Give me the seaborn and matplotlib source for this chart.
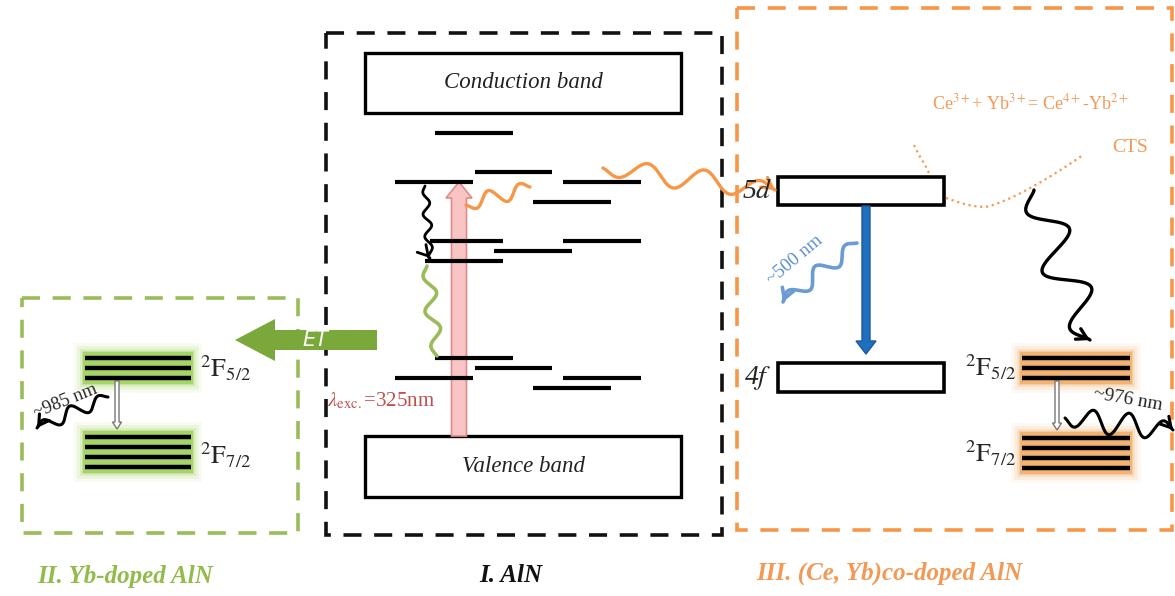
import numpy as np
import matplotlib
matplotlib.use("Agg")
import matplotlib.pyplot as plt
import seaborn as sns
from matplotlib.patches import Rectangle, FancyArrow

sns.set_theme(style="white")
plt.rcParams['font.family'] = ['Liberation Serif', 'DejaVu Serif']
plt.rcParams['mathtext.fontset'] = 'stix'

# ---------------- data (diagram layout in pixel units) ----------------
panel_titles = ["II. Yb-doped AlN", "I. AlN", "III. (Ce, Yb)co-doped AlN"]
panel_colors = ["#92bb4a", "#111111", "#f29a55"]
panel_title_pos = [(125, 576), (511, 576), (889, 573)]
panel_boxes = [(22, 298, 298, 533), (326, 33, 722, 535), (737, 8, 1172, 530)]

band_boxes = [(365, 53, 681, 113), (365, 436, 681, 497)]
band_labels = ["Conduction band", "Valence band"]

defect_y = [133, 172, 182, 182, 202, 241, 241, 251, 261, 358, 368, 378, 378, 388]
defect_x0 = [435, 475, 395, 563, 533, 430, 563, 494, 425, 435, 475, 395, 563, 533]
defect_x1 = [513, 552, 473, 641, 611, 503, 641, 572, 503, 513, 552, 473, 641, 611]

yb_upper_y = [358, 368, 378]
yb_lower_y = [437, 447, 457, 467]
ce_levels = ["5d", "4f"]
ce_level_y = [(177, 205), (363, 392)]

# ---------------- figure ----------------
fig = plt.figure(figsize=(11.75, 5.96), dpi=100)
ax = fig.add_axes([0, 0, 1, 1])
ax.set_xlim(0, 1175)
ax.set_ylim(596, 0)
ax.axis("off")


def dashed_box(b, color):
    x0, y0, x1, y1 = b
    ax.add_patch(Rectangle((x0, y0), x1 - x0, y1 - y0, fill=False, ec=color,
                           lw=2.6, ls=(0, (5, 3.5))))


def wavy(p0, p1, waves, amp, color, lw=2.2, head=True):
    p0 = np.array(p0, float); p1 = np.array(p1, float)
    t = np.linspace(0, 1, 300)
    d = p1 - p0
    L = np.hypot(*d)
    u = d / L
    n = np.array([-u[1], u[0]])
    env = np.sin(np.pi * t) ** 0.3
    off = amp * np.sin(2 * np.pi * waves * t) * env
    pts = p0[None, :] + t[:, None] * d[None, :] + off[:, None] * n[None, :]
    ax.plot(pts[:, 0], pts[:, 1], color=color, lw=lw, solid_capstyle="round")
    if head:
        ax.annotate("", xy=pts[-1], xytext=pts[-8],
                    arrowprops=dict(arrowstyle="->,head_length=0.6,head_width=0.35",
                                    color=color, lw=lw, shrinkA=0, shrinkB=0))


def glow_levels(x0, x1, ys, color):
    top, bot = min(ys) - 6, max(ys) + 6
    for pad, a in [(9, 0.08), (6, 0.12), (3, 0.2), (1, 0.35), (0, 0.7)]:
        ax.add_patch(Rectangle((x0 - pad, top - pad), x1 - x0 + 2 * pad,
                               bot - top + 2 * pad, color=color, alpha=a, lw=0))
    for y in ys:
        ax.plot([x0 + 2, x1 - 2], [y, y], color="black", lw=3.2, solid_capstyle="butt")


def hollow_arrow(x, y0, y1):
    ax.add_patch(FancyArrow(x, y0, 0, y1 - y0, width=4, head_width=9, head_length=7,
                            length_includes_head=True, fc="white", ec="#777777", lw=1))


# panel boxes and titles
for b, c in zip(panel_boxes, ["#9bbb59", "#111111", "#f79646"]):
    dashed_box(b, c)
for t, c, (x, y) in zip(panel_titles, panel_colors, panel_title_pos):
    ax.text(x, y, t, color=c, fontsize=18, style="italic", weight="bold",
            ha="center", va="center")

# bands
for (x0, y0, x1, y1), lab in zip(band_boxes, band_labels):
    ax.add_patch(Rectangle((x0, y0), x1 - x0, y1 - y0, fill=False, ec="black", lw=2.4))
    ax.text((x0 + x1) / 2, (y0 + y1) / 2, lab, fontsize=16.5, style="italic",
            ha="center", va="center", color="#222222")

# defect levels
for y, a, b in zip(defect_y, defect_x0, defect_x1):
    ax.plot([a, b], [y, y], color="black", lw=3, solid_capstyle="butt")

# excitation arrow (pink)
ax.add_patch(FancyArrow(459, 436, 0, -254, width=15, head_width=26, head_length=16,
                        length_includes_head=True, fc="#f9c4c4", ec="#e08a8a", lw=1.2))
ax.text(327, 401, r"$\lambda_{\rm exc.}$=325nm", color="#c0504d", fontsize=15,
        ha="left", va="center")

# AlN relaxations
wavy((425, 186), (430, 258), 3.2, 4, "black", lw=2.0)
wavy((427, 266), (437, 356), 2.5, 7, "#9bbb59", lw=2.6, head=False)
wavy((466, 205), (530, 187), 2.0, 8, "#f79646", lw=2.4, head=False)
wavy((603, 168), (775, 190), 3.0, 11, "#f79646", lw=2.4)

# ET arrow
ax.add_patch(FancyArrow(377, 340, -142, 0, width=20, head_width=42, head_length=40,
                        length_includes_head=True, fc="#7aa83a", ec="#7aa83a", lw=0))
ax.text(315, 340, "ET", color="white", fontsize=15, style="italic", ha="center",
        va="center", family="DejaVu Sans")

# Yb-doped panel
glow_levels(83, 193, yb_upper_y, "#9bcf53")
glow_levels(83, 193, yb_lower_y, "#9bcf53")
hollow_arrow(117, 381, 429)
ax.text(200, 368, r"$^{2}\mathrm{F}_{5/2}$", fontsize=19, ha="left", va="center")
ax.text(200, 455, r"$^{2}\mathrm{F}_{7/2}$", fontsize=19, ha="left", va="center")
wavy((108, 397), (37, 428), 2.5, 7, "black", lw=2.2)
ax.text(65, 401, "~985 nm", fontsize=13.5, rotation=22, ha="center", va="center")

# Ce levels
for (y0, y1), lab in zip(ce_level_y, ce_levels):
    ax.add_patch(Rectangle((778, y0), 166, y1 - y0, fill=False, ec="black", lw=2.6))
    ax.text(772, (y0 + y1) / 2, lab[0] + "$\\mathit{" + lab[1] + "}$", fontsize=20,
            ha="right", va="center", style="italic")

ax.add_patch(FancyArrow(866, 206, 0, 148, width=8, head_width=20, head_length=13,
                        length_includes_head=True, fc="#1f6fbf", ec="#1a5a9c", lw=1))
wavy((857, 243), (783, 302), 2.5, 8, "#6a9bd3", lw=2.6)
ax.text(795, 260, "~500 nm", color="#5b8fcb", fontsize=13.5, rotation=40,
        ha="center", va="center")

# Yb in co-doped panel
glow_levels(1020, 1132, yb_upper_y, "#f0a860")
glow_levels(1020, 1132, [438, 448, 458, 468], "#f0a860")
hollow_arrow(1057, 381, 430)
ax.text(965, 367, r"$^{2}\mathrm{F}_{5/2}$", fontsize=19, ha="left", va="center")
ax.text(965, 453, r"$^{2}\mathrm{F}_{7/2}$", fontsize=19, ha="left", va="center")
wavy((1065, 418), (1173, 430), 3.0, 12, "black", lw=2.2)
ax.text(1128, 400, "~976 nm", fontsize=14, rotation=-10, ha="center", va="center")
wavy((1034, 190), (1090, 340), 2.5, 21, "black", lw=2.4)

# CTS annotation
ax.text(1030, 103, r"Ce$^{3+}$+ Yb$^{3+}$= Ce$^{4+}$-Yb$^{2+}$", color="#f29a55",
        fontsize=13, ha="center", va="center")
ax.text(1130, 148, "CTS", color="#f29a55", fontsize=14, ha="center", va="center")
ax.plot([914, 919, 925, 930], [145, 155, 165, 175], color="#f29a55", lw=1.6, ls=":")
cx = np.linspace(946, 1083, 50)
cy = 198 + 9 * np.sin(np.clip((cx - 946) / 40, 0, 1) * np.pi / 2) - 52 * np.clip((cx - 985) / 98, 0, 1) ** 1.3
ax.plot(cx, cy, color="#f29a55", lw=1.6, ls=":")

fig.savefig("out.png", dpi=100, facecolor="white")
